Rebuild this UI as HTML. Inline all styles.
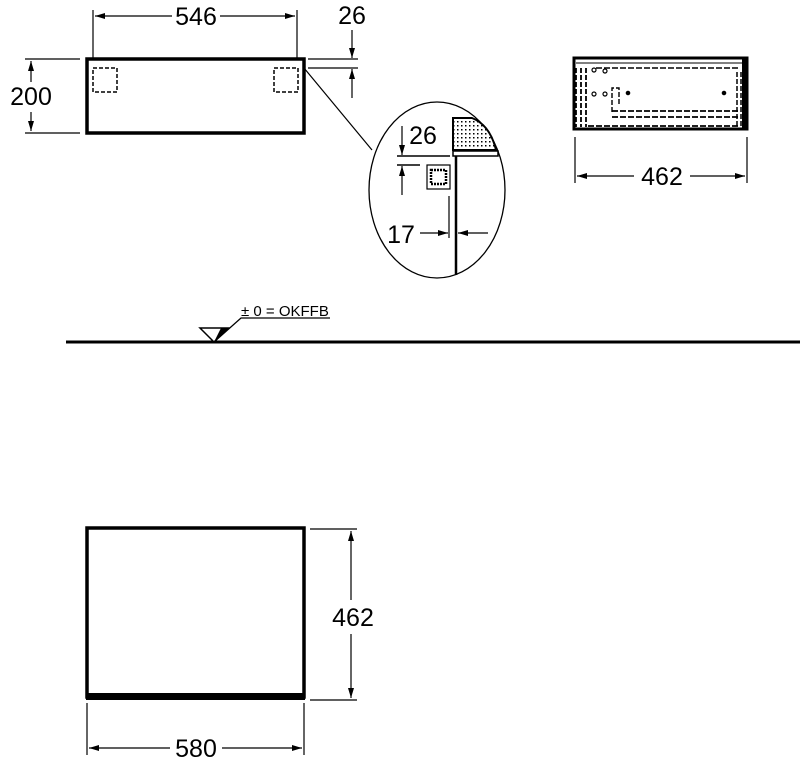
<!DOCTYPE html>
<html><head><meta charset="utf-8"><style>
html,body{margin:0;padding:0;background:#fff;}
svg{display:block;}
text{font-family:"Liberation Sans",Arial,sans-serif;fill:#000;}
</style></head><body>
<svg width="800" height="762" viewBox="0 0 800 762" xmlns="http://www.w3.org/2000/svg">
<defs>
<marker id="a" viewBox="0 0 10 6" refX="10" refY="3" markerWidth="10" markerHeight="6" orient="auto" markerUnits="userSpaceOnUse"><path d="M0,0 L10,3 L0,6 z" fill="#000"/></marker>
<pattern id="dots" width="4" height="4" patternUnits="userSpaceOnUse"><rect width="4" height="4" fill="#fff"/><rect x="1" y="1" width="1.5" height="1.5" fill="#000"/></pattern>
</defs>
<g stroke="#000" fill="none">
<rect x="87" y="59" width="217" height="74" stroke-width="3.5"/>
<rect x="93" y="68" width="24" height="24" stroke-width="1.5" stroke-dasharray="4,2"/>
<rect x="274" y="68" width="24" height="24" stroke-width="1.5" stroke-dasharray="4,2"/>
<line x1="93" y1="10" x2="93" y2="58" stroke-width="1.2"/>
<line x1="297" y1="10" x2="297" y2="58" stroke-width="1.2"/>
<line x1="172" y1="16" x2="95" y2="16" stroke-width="1.2" marker-end="url(#a)"/>
<line x1="220" y1="16" x2="295" y2="16" stroke-width="1.2" marker-end="url(#a)"/>
<line x1="25" y1="59" x2="80" y2="59" stroke-width="1.2"/>
<line x1="25" y1="133" x2="80" y2="133" stroke-width="1.2"/>
<line x1="31" y1="82" x2="31" y2="61" stroke-width="1.2" marker-end="url(#a)"/>
<line x1="31" y1="112" x2="31" y2="131" stroke-width="1.2" marker-end="url(#a)"/>
<line x1="308" y1="59" x2="358" y2="59" stroke-width="1.2"/>
<line x1="308" y1="68" x2="358" y2="68" stroke-width="1.2"/>
<line x1="352" y1="30" x2="352" y2="58" stroke-width="1.2" marker-end="url(#a)"/>
<line x1="352" y1="98" x2="352" y2="69" stroke-width="1.2" marker-end="url(#a)"/>
<line x1="304" y1="68" x2="372" y2="150" stroke-width="1.2"/>
<ellipse cx="437" cy="190" rx="68" ry="88" stroke-width="1.3"/>
<path d="M453,118 L472,118 Q490,125 496,150 L453,150 Z" fill="url(#dots)" stroke-width="2"/>
<rect x="453" y="151" width="45" height="5" stroke-width="1.5"/>
<line x1="456" y1="156" x2="456" y2="275" stroke-width="2.5"/>
<line x1="397" y1="156" x2="450" y2="156" stroke-width="1.5"/>
<line x1="397" y1="165" x2="420" y2="165" stroke-width="1.5"/>
<line x1="402" y1="126" x2="402" y2="155" stroke-width="1.2" marker-end="url(#a)"/>
<line x1="402" y1="195" x2="402" y2="166" stroke-width="1.2" marker-end="url(#a)"/>
<rect x="427" y="165" width="23" height="24" stroke-width="1.2"/>
<rect x="431" y="170" width="15" height="14" stroke-width="2.5" stroke-dasharray="2,1"/>
<line x1="449" y1="196" x2="449" y2="238" stroke-width="1.2"/>
<line x1="420" y1="233" x2="448" y2="233" stroke-width="1.2" marker-end="url(#a)"/>
<line x1="488" y1="233" x2="458" y2="233" stroke-width="1.2" marker-end="url(#a)"/>
<rect x="574" y="58" width="173" height="71" stroke-width="3"/>
<rect x="742" y="58" width="5" height="71" fill="#000" stroke="none"/>
<line x1="576" y1="63" x2="742" y2="63" stroke-width="1"/>
<line x1="596" y1="68" x2="738" y2="68" stroke-width="1.5" stroke-dasharray="6,2"/>
<line x1="576" y1="68" x2="576" y2="127" stroke-width="1.8" stroke-dasharray="5,2"/>
<line x1="581" y1="68" x2="581" y2="127" stroke-width="1.8" stroke-dasharray="5,2"/>
<line x1="586" y1="68" x2="586" y2="127" stroke-width="1.8" stroke-dasharray="5,2"/>
<line x1="588" y1="126" x2="738" y2="126" stroke-width="1.8" stroke-dasharray="6,2"/>
<path d="M612,112 L612,88 L619,88 L619,105" stroke-width="1.4" stroke-dasharray="5,2"/>
<line x1="612" y1="111" x2="738" y2="111" stroke-width="1.8" stroke-dasharray="6,2"/>
<line x1="612" y1="117" x2="738" y2="117" stroke-width="1.8" stroke-dasharray="6,2"/>
<line x1="737" y1="72" x2="737" y2="128" stroke-width="1.5" stroke-dasharray="5,2"/>
<line x1="741" y1="72" x2="741" y2="128" stroke-width="1.5" stroke-dasharray="5,2"/>
<circle cx="594" cy="94" r="2" stroke-width="1.2"/>
<circle cx="605" cy="94" r="2" stroke-width="1.2"/>
<circle cx="594" cy="70" r="2" stroke-width="1.2"/>
<circle cx="605" cy="71" r="2" stroke-width="1.2"/>
<circle cx="628" cy="93" r="1.8" fill="#000"/>
<circle cx="724" cy="93" r="1.8" fill="#000"/>
<line x1="575" y1="137" x2="575" y2="183" stroke-width="1.2"/>
<line x1="747" y1="137" x2="747" y2="183" stroke-width="1.2"/>
<line x1="634" y1="176" x2="577" y2="176" stroke-width="1.2" marker-end="url(#a)"/>
<line x1="690" y1="176" x2="745" y2="176" stroke-width="1.2" marker-end="url(#a)"/>
<line x1="66" y1="342" x2="800" y2="342" stroke-width="3"/>
<path d="M200,328 L228,328 L214,342 Z" fill="#fff" stroke-width="1.5"/>
<path d="M214,342 L228,328 L221,328 Z" fill="#000" stroke="none"/>
<polyline points="214,342 241,318 330,318" stroke-width="1.3"/>
<rect x="87" y="528" width="217" height="169" stroke-width="3.5"/>
<rect x="86" y="693" width="219" height="7" fill="#000" stroke="none"/>
<line x1="310" y1="529" x2="357" y2="529" stroke-width="1.2"/>
<line x1="310" y1="700" x2="357" y2="700" stroke-width="1.2"/>
<line x1="351" y1="600" x2="351" y2="531" stroke-width="1.2" marker-end="url(#a)"/>
<line x1="351" y1="634" x2="351" y2="698" stroke-width="1.2" marker-end="url(#a)"/>
<line x1="87" y1="703" x2="87" y2="755" stroke-width="1.2"/>
<line x1="304" y1="703" x2="304" y2="755" stroke-width="1.2"/>
<line x1="170" y1="748" x2="89" y2="748" stroke-width="1.2" marker-end="url(#a)"/>
<line x1="222" y1="748" x2="302" y2="748" stroke-width="1.2" marker-end="url(#a)"/>
</g>
<text x="196" y="25" font-size="25" text-anchor="middle">546</text>
<text x="31" y="105" font-size="25" text-anchor="middle">200</text>
<text x="352" y="24" font-size="25" text-anchor="middle">26</text>
<text x="423" y="144" font-size="25" text-anchor="middle">26</text>
<text x="401" y="243" font-size="25" text-anchor="middle">17</text>
<text x="662" y="185" font-size="25" text-anchor="middle">462</text>
<text x="241" y="316" font-size="15">± 0 = OKFFB</text>
<text x="353" y="626" font-size="25" text-anchor="middle">462</text>
<text x="196" y="757" font-size="25" text-anchor="middle">580</text>
</svg>
</body></html>
